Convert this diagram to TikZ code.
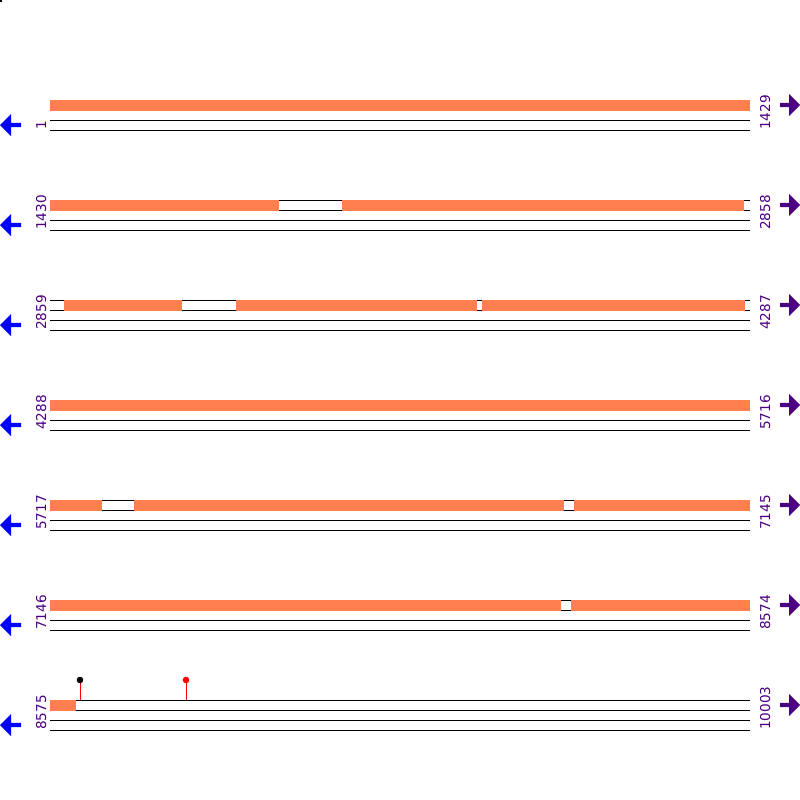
\documentclass[tikz,border=0pt]{standalone}
\usepackage{fontspec}
\setmainfont{DejaVu Sans}
\definecolor{seqorange}{HTML}{FF7F50}
\definecolor{seqindigo}{HTML}{4B0082}
\definecolor{seqblue}{HTML}{0000FF}
\tikzset{
  strand/.style={draw=black,line width=1pt},
  feat/.style={fill=seqorange},
  poslabel/.style={rotate=90,anchor=base west,inner sep=0pt,text=seqindigo,font=\fontsize{13.6}{14}\selectfont},
  revarrow/.style={fill=seqblue},
  fwdarrow/.style={fill=seqindigo},
  stem/.style={draw=red,line width=1pt}
}
\begin{document}
\begin{tikzpicture}[x=1pt,y=-1pt]
\useasboundingbox (0,0) rectangle (800,800);
\fill[white] (0,0) rectangle (800,800);
\fill[black] (0,0) rectangle (2,2);
% rows
\foreach \i/\l/\r in {0/1/1429,1/1430/2858,2/2859/4287,3/4288/5716,4/5717/7145,5/7146/8574,6/8575/10003}{
  \pgfmathsetmacro{\t}{100+100*\i}
  \foreach \k in {0,10,20,30}{
    \draw[strand] (50,\t+\k) -- (750,\t+\k);
  }
  \node[poslabel] (L\i) at (46,\t+30) {\l};
  \node[poslabel] (R\i) at (770,\t+30) {\r};
  \pgfmathsetmacro{\c}{\t+25}
  \fill[revarrow] (0,\c) -- (11,\c-11) -- (11,\c-2.2) -- (21,\c-2.2) -- (21,\c+2.2) -- (11,\c+2.2) -- (11,\c+11) -- cycle;
  \pgfmathsetmacro{\d}{\t+5}
  \fill[fwdarrow] (800,\d) -- (789,\d-11) -- (789,\d-2.2) -- (780,\d-2.2) -- (780,\d+2.2) -- (789,\d+2.2) -- (789,\d+11) -- cycle;
}
% orange features
\foreach \a/\b/\t in {50/750/100, 50/279/200, 342/744/200, 64/182/300, 236/477/300, 482/745/300, 50/750/400, 50/102/500, 134/564/500, 574/750/500, 50/561/600, 571/750/600, 50/76/700}{
  \fill[feat] (\a,\t-0.5) rectangle (\b,\t+10.5);
}
% lollipops
\coordinate (s1) at (80,700);
\coordinate (h1) at (80,680);
\coordinate (s2) at (186,700);
\coordinate (h2) at (186,680);
\draw[stem] (s1) -- (h1);
\draw[stem] (s2) -- (h2);
\fill[black] (h1) circle (3.3);
\fill[red] (h2) circle (3.3);
\end{tikzpicture}
\end{document}
